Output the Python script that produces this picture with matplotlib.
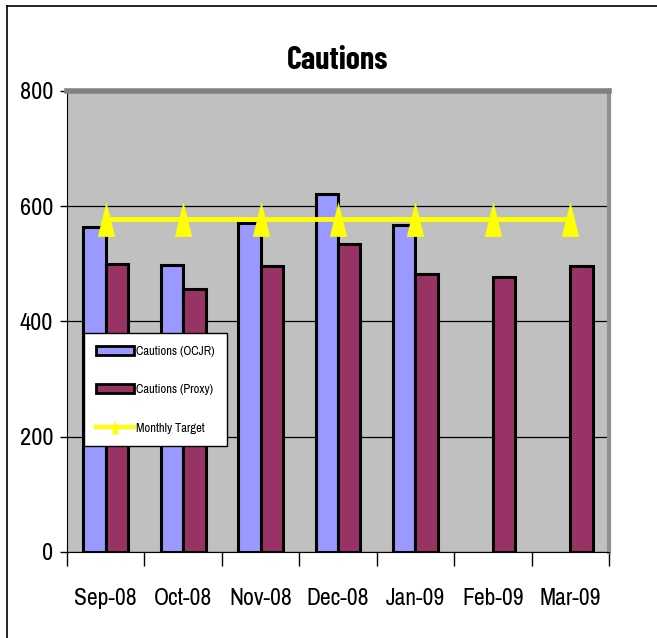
import numpy as np
import matplotlib
matplotlib.use("Agg")
from matplotlib import pyplot as plt
from matplotlib.path import Path
from matplotlib.lines import Line2D

plt.rcParams['font.family'] = ['Archivo Narrow', 'Liberation Sans', 'DejaVu Sans']

months = ['Sep-08', 'Oct-08', 'Nov-08', 'Dec-08', 'Jan-09', 'Feb-09', 'Mar-09']
ocjr = [564, 498, 571, 621, 567, np.nan, np.nan]
proxy = [499, 456, 496, 534, 483, 477, 496]
target = [578, 578, 578, 578, 578, 578, 578]
y_ticks = [0, 200, 400, 600, 800]

# narrow upright triangle marker like Excel's
tri = Path([(-0.5, -1.0), (0.5, -1.0), (0.0, 1.0), (-0.5, -1.0)],
           [Path.MOVETO, Path.LINETO, Path.LINETO, Path.CLOSEPOLY])

fig = plt.figure(figsize=(6.57, 6.38), dpi=100)
ax = fig.add_axes([0.102, 0.1348, 0.825, 0.7226])
ax.set_facecolor('#c0c0c0')

x = np.arange(len(months))
bar_w = 0.29
ax.bar(x - bar_w / 2, ocjr, width=bar_w, color='#9999ff', edgecolor='black',
       linewidth=2.2, label='Cautions (OCJR)', zorder=3)
ax.bar(x + bar_w / 2, proxy, width=bar_w, color='#993366', edgecolor='black',
       linewidth=2.2, label='Cautions (Proxy)', zorder=3)
ax.plot(x, target, color='#ffff00', linewidth=3.5, marker=tri, markersize=25,
        markeredgewidth=0, label='Monthly Target', zorder=4)

ax.set_xlim(-0.5, len(months) - 0.5)
ax.set_ylim(0, 800)
ax.set_yticks(y_ticks)
ax.set_yticklabels([str(v) for v in y_ticks], fontsize=17.5)
ax.yaxis.grid(True, color='black', linewidth=0.9, zorder=1)
ax.set_axisbelow(True)

ax.set_xticks(x)
ax.set_xticklabels(months, fontsize=17)
ax.tick_params(axis='x', length=0, pad=26)
ax.set_xticks(np.arange(len(months) + 1) - 0.5, minor=True)
ax.tick_params(axis='x', which='minor', length=10, width=1, direction='out')
ax.tick_params(axis='y', length=5, width=1, direction='out', pad=5)

ax.spines['top'].set_color('#808080')
ax.spines['top'].set_linewidth(4)
ax.spines['right'].set_color('#909090')
ax.spines['right'].set_linewidth(3)
ax.spines['left'].set_color('black')
ax.spines['bottom'].set_color('black')

ax.set_title('Cautions', fontsize=23, fontweight='bold', pad=16,
             family=['Barlow Condensed', 'Asap Condensed', 'DejaVu Sans'])

handles = [
    plt.Rectangle((0, 0), 1, 1, facecolor='#9999ff', edgecolor='black', linewidth=2),
    plt.Rectangle((0, 0), 1, 1, facecolor='#993366', edgecolor='black', linewidth=2),
    Line2D([0], [0], color='#ffff00', linewidth=3, marker=tri, markersize=10, markeredgewidth=0),
]
leg = ax.legend(handles, ['Cautions (OCJR)', 'Cautions (Proxy)', 'Monthly Target'],
                loc='upper left', bbox_to_anchor=(0.031, 0.475), fontsize=9,
                frameon=True, fancybox=False, framealpha=1, edgecolor='black',
                borderpad=1.0, labelspacing=2.2, handlelength=3.0, handletextpad=0.2,
                borderaxespad=0)
leg.get_frame().set_linewidth(1)
leg.set_zorder(6)

# chart area border (only left and top visible in the crop)
fig.add_artist(Line2D([7 / 657, 7 / 657], [0, 1 - 6 / 638], color='black', linewidth=1.2,
                      transform=fig.transFigure))
fig.add_artist(Line2D([7 / 657, 1], [1 - 6 / 638, 1 - 6 / 638], color='black', linewidth=1.2,
                      transform=fig.transFigure))

fig.savefig('out.png', dpi=100)
